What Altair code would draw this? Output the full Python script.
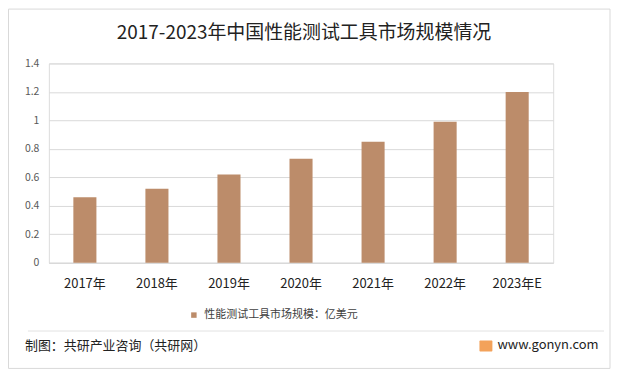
import altair as alt
import pandas as pd

years = ["2017年", "2018年", "2019年", "2020年", "2021年", "2022年", "2023年E"]
values = [0.46, 0.52, 0.62, 0.73, 0.85, 0.99, 1.2]
series_name = "性能测试工具市场规模：亿美元"
title_text = "2017-2023年中国性能测试工具市场规模情况"
source_text = "制图：共研产业咨询（共研网）"
site_text = "www.gonyn.com"
y_ticks = [0, 0.2, 0.4, 0.6, 0.8, 1.0, 1.2, 1.4]

FONT = "Noto Sans CJK SC"

df = pd.DataFrame({"year": years, "value": values, "series": [series_name] * len(years)})

bars = alt.Chart(df).mark_bar(color="#BC8C6A").encode(
    x=alt.X(
        "year:N",
        sort=years,
        title=None,
        scale=alt.Scale(paddingInner=0.68, paddingOuter=0.34),
        axis=alt.Axis(
            labelAngle=0,
            labelFontSize=13,
            labelFont=FONT,
            labelColor="#222222",
            labelPadding=15,
            ticks=False,
            domain=True,
            domainColor="#D9D9D9",
            grid=False,
        ),
    ),
    y=alt.Y(
        "value:Q",
        title=None,
        scale=alt.Scale(domain=[0, 1.4], nice=False),
        axis=alt.Axis(
            values=y_ticks,
            labelExpr="datum.value == 0 ? '0' : format(datum.value, '.1~f')",
            labelFontSize=10.5,
            labelFont=FONT,
            labelColor="#595959",
            labelPadding=10,
            ticks=False,
            domain=False,
            grid=True,
            gridColor="#D9D9D9",
            gridWidth=1,
        ),
    ),
    color=alt.Color(
        "series:N",
        scale=alt.Scale(range=["#BC8C6A"]),
        legend=alt.Legend(
            title=None,
            orient="none",
            legendX=140,
            legendY=247,
            symbolType="square",
            symbolSize=30,
            symbolStrokeWidth=0,
            labelFontSize=11,
            labelFont=FONT,
            labelColor="#404040",
            labelOffset=5,
            padding=0,
        ),
    ),
)

one = alt.Data(values=[{"k": 1}])

border = alt.Chart(one).mark_rect(fill=None, stroke="#D9D9D9", strokeWidth=1).encode(
    x=alt.value(-40.5), x2=alt.value(563), y=alt.value(-54.5), y2=alt.value(306)
)

sep = alt.Chart(one).mark_rule(color="#E3E3E3", strokeWidth=1).encode(
    x=alt.value(-21), x2=alt.value(557), y=alt.value(268.5)
)

logo = alt.Chart(one).mark_rect(color="#F3A25A", cornerRadius=1).encode(
    x=alt.value(432), x2=alt.value(445), y=alt.value(278), y2=alt.value(289)
)

title = alt.Chart(one).mark_text(
    align="center", baseline="middle", fontSize=19, font=FONT, color="#222222"
).encode(x=alt.value(256), y=alt.value(-30), text=alt.value(title_text))

src = alt.Chart(one).mark_text(
    align="left", baseline="middle", fontSize=13, font=FONT, color="#222222"
).encode(x=alt.value(-24), y=alt.value(284), text=alt.value(source_text))

site = alt.Chart(one).mark_text(
    align="left", baseline="middle", fontSize=13, font=FONT, color="#222222"
).encode(x=alt.value(450), y=alt.value(283), text=alt.value(site_text))

chart = alt.layer(border, bars, sep, logo, title, src, site).properties(
    width=506,
    height=200,
    padding={"left": 41, "top": 55, "right": 60, "bottom": 110},
    autosize=alt.AutoSizeParams(type="none"),
).configure_view(stroke=None).configure(background="white")

chart.save("out.html", embed_options={"renderer": "svg", "actions": False})
